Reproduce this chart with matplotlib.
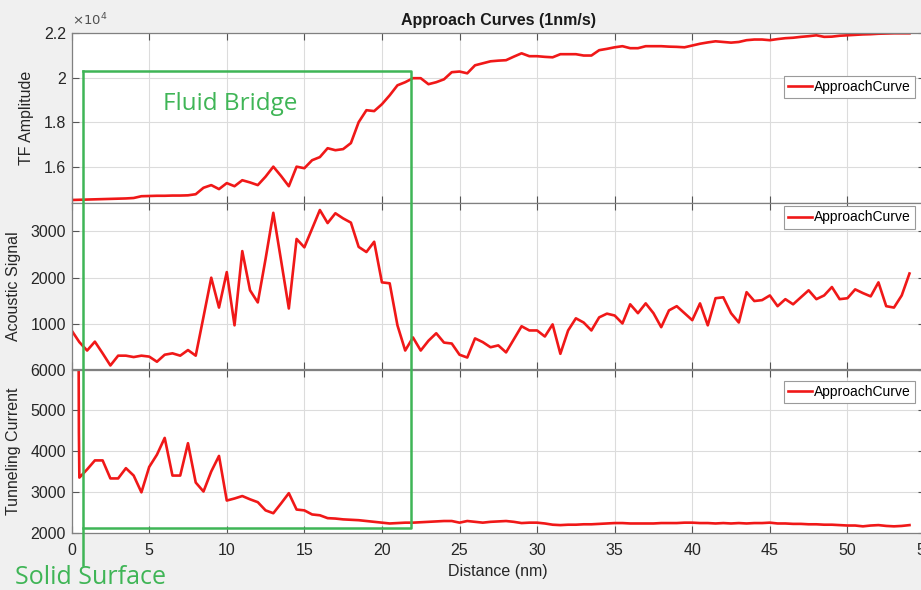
import numpy as np
import matplotlib
matplotlib.use('Agg')
import matplotlib.pyplot as plt
import matplotlib.transforms as mtransforms
from matplotlib.ticker import FuncFormatter

plt.rcParams['font.family'] = ['Liberation Sans', 'DejaVu Sans']

# sampling grid (nm)
distance = np.arange(0, 54.01, 0.5)

tf_amplitude = [
    14500, 14510, 14520, 14530, 14540, 14550, 14560, 14570, 14590, 14670,
    14680, 14690, 14690, 14700, 14700, 14710, 14760, 15050, 15170, 14990,
    15260, 15120, 15390, 15290, 15170, 15550, 16000, 15580, 15120, 16000,
    15930, 16290, 16430, 16830, 16740, 16790, 17060, 18000, 18540, 18500,
    18810, 19210, 19660, 19800, 19980, 19980, 19710, 19800, 19930, 20250,
    20280, 20200, 20560, 20650, 20740, 20770, 20790, 20950, 21100, 20970,
    20970, 20940, 20920, 21060, 21060, 21060, 21000, 21000, 21240, 21300,
    21370, 21420, 21330, 21330, 21420, 21420, 21420, 21400, 21390, 21370,
    21450, 21530, 21590, 21640, 21610, 21580, 21610, 21690, 21720, 21720,
    21690, 21740, 21780, 21800, 21840, 21870, 21910, 21840, 21850, 21890,
    21910, 21930, 21950, 21960, 21980, 21990, 22000, 22000, 22000,
]

acoustic = [
    870, 620, 440, 630, 380, 120, 330, 330, 300, 330,
    310, 200, 350, 380, 330, 450, 330, 1160, 2000, 1360,
    2120, 980, 2570, 1730, 1470, 2400, 3390, 2370, 1340, 2830,
    2650, 3050, 3450, 3170, 3380, 3270, 3180, 2660, 2550, 2770,
    1900, 1880, 980, 440, 720, 440, 650, 810, 610, 590,
    350, 290, 700, 620, 510, 550, 400, 680, 960, 870,
    870, 740, 1000, 370, 870, 1130, 1040, 870, 1150, 1230,
    1190, 1020, 1430, 1240, 1450, 1240, 940, 1300, 1390, 1240,
    1090, 1450, 980, 1560, 1580, 1240, 1040, 1690, 1500, 1520,
    1620, 1390, 1540, 1430, 1580, 1730, 1540, 1620, 1800, 1540,
    1560, 1750, 1670, 1600, 1900, 1390, 1360, 1620, 2090,
]

# tunneling current: spike near contact, then values on the grid from 0.5 nm
tunnel_spike_x = [0.45, 0.47]
tunnel_spike = [6600, 4460]
tunneling = [
    3360, 3560, 3780, 3780, 3340, 3340, 3590, 3410, 3000, 3620,
    3920, 4330, 3410, 3410, 4200, 3240, 3020, 3510, 3890, 2800,
    2850, 2910, 2830, 2760, 2560, 2490, 2730, 2980, 2580, 2560,
    2460, 2440, 2370, 2360, 2340, 2330, 2320, 2300, 2280, 2260,
    2240, 2250, 2260, 2260, 2270, 2280, 2290, 2300, 2300, 2260,
    2300, 2280, 2260, 2280, 2290, 2300, 2280, 2250, 2260, 2260,
    2240, 2210, 2200, 2210, 2210, 2220, 2220, 2230, 2240, 2250,
    2250, 2240, 2240, 2240, 2240, 2250, 2250, 2250, 2260, 2260,
    2250, 2250, 2240, 2250, 2240, 2250, 2240, 2250, 2250, 2260,
    2240, 2240, 2230, 2230, 2220, 2220, 2210, 2210, 2200, 2190,
    2190, 2170, 2190, 2200, 2180, 2170, 2180, 2200,
]

x_ticks = np.arange(0, 56, 5)
red = '#f01818'
green = '#3fb556'
W, H = 921, 590

fig = plt.figure(figsize=(W / 100, H / 100), dpi=100, facecolor='#f0f0f0')

left, right = 71.6, 925
def px_axes(top, bottom):
    return [left / W, 1 - bottom / H, (right - left) / W, (bottom - top) / H]

ax1 = fig.add_axes(px_axes(33.3, 203))
ax2 = fig.add_axes(px_axes(203, 368.5), sharex=ax1)
ax3 = fig.add_axes(px_axes(369.5, 533.3), sharex=ax1)

ax1.plot(distance, tf_amplitude, color=red, lw=1.9, label='ApproachCurve')
ax2.plot(distance, acoustic, color=red, lw=1.9, label='ApproachCurve')
ax3.plot(np.concatenate([tunnel_spike_x, distance[1:]]),
         tunnel_spike + tunneling, color=red, lw=1.9, label='ApproachCurve')

ax1.set_ylim(14365, 22000)
ax1.set_yticks([16000, 18000, 20000, 22000])
ax1.yaxis.set_major_formatter(FuncFormatter(lambda v, _: f'{v / 1e4:g}'))
ax1.text(0.0, 1.03, r'$\times10^{4}$', transform=ax1.transAxes,
         fontsize=9.5, color='#505050', va='bottom', ha='left')
ax2.set_ylim(55, 3600)
ax2.set_yticks([1000, 2000, 3000])
ax3.set_ylim(2000, 6000)
ax3.set_yticks([2000, 3000, 4000, 5000, 6000])

ax1.set_ylabel('TF Amplitude', fontsize=11.5, color='#262626', labelpad=7)
ax2.set_ylabel('Acoustic Signal', fontsize=11.5, color='#262626', labelpad=7)
ax3.set_ylabel('Tunneling Current', fontsize=11.5, color='#262626', labelpad=7)
ax3.set_xlabel('Distance (nm)', fontsize=11.5, color='#262626', labelpad=4)
ax1.set_title('Approach Curves (1nm/s)', fontsize=11.5, fontweight='bold',
              color='#1a1a1a', pad=6)

legend_y = [0.75, 0.98, 0.93]
for ax, ly in zip([ax1, ax2, ax3], legend_y):
    ax.set_xlim(0, 55)
    ax.set_xticks(x_ticks)
    ax.set_facecolor('white')
    ax.grid(True, color='#dcdcdc', lw=0.8)
    ax.set_axisbelow(True)
    ax.tick_params(direction='in', length=5, width=0.8, top=True, right=True,
                   labelsize=11.5, colors='#262626')
    ax.tick_params(axis='both', color='#555555')
    ax.tick_params(axis='x', pad=7)
    ax.tick_params(axis='y', pad=4)
    for sp in ax.spines.values():
        sp.set_color('#808080')
        sp.set_linewidth(0.9)
    leg = ax.legend(loc='upper right', bbox_to_anchor=(0.988, ly), fontsize=10,
                    frameon=True, fancybox=False, framealpha=1,
                    edgecolor='#9a9a9a', handlelength=1.7, handletextpad=0.15,
                    borderpad=0.3, borderaxespad=0.0)
    leg.get_frame().set_linewidth(0.8)
ax1.tick_params(labelbottom=False)
ax2.tick_params(labelbottom=False)

# annotation box and markers (figure y, data x)
trans = mtransforms.blended_transform_factory(ax3.transData, fig.transFigure)
box_left, box_right = 0.75, 21.9
box_top, box_bottom, surf_bottom = 1 - 71 / H, 1 - 528 / H, 1 - 565 / H
fig.add_artist(plt.Line2D([box_left, box_right, box_right, box_left],
                          [box_top, box_top, box_bottom, box_bottom],
                          transform=trans, color=green, lw=1.8))
fig.add_artist(plt.Line2D([box_left, box_left], [box_top, surf_bottom],
                          transform=trans, color=green, lw=1.8))
fig.text(163 / W, 1 - 104 / H, 'Fluid Bridge', color=green, fontsize=17.5,
         family='Open Sans', va='center', ha='left')
fig.text(15 / W, 1 - 578 / H, 'Solid Surface', color=green, fontsize=18,
         family='Open Sans', va='center', ha='left')

plt.savefig('out.png', dpi=100, facecolor=fig.get_facecolor())
